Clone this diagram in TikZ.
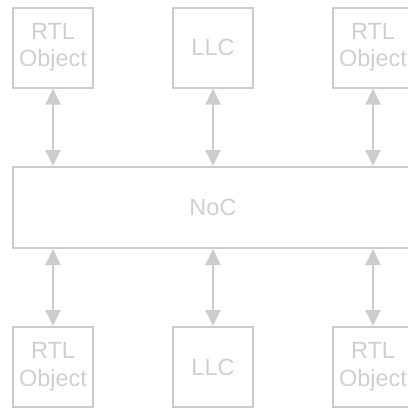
\documentclass[tikz,border=0pt]{standalone}
\usepackage{fontspec}
\setmainfont{Liberation Sans}
\usetikzlibrary{arrows.meta}
\definecolor{edgegray}{HTML}{CCCCCC}
\definecolor{textgray}{HTML}{CFCFCF}
\tikzset{
  unit/.style={draw=edgegray, line width=2pt, minimum width=80pt, minimum height=80pt,
    inner sep=0pt, text=textgray, font=\fontsize{23.5pt}{27.5pt}\selectfont, align=center},
  bus/.style={draw=edgegray, line width=2pt, minimum width=400pt, minimum height=81pt,
    inner sep=0pt, text=textgray, font=\fontsize{23.5pt}{27.5pt}\selectfont},
  link/.style={draw=edgegray, line width=2pt,
    {Triangle[width=15pt,length=16pt]}-{Triangle[width=15pt,length=16pt]}}
}
\begin{document}
\begin{tikzpicture}[x=1pt, y=-1pt]
  \useasboundingbox (0,0) rectangle (408,408);
  \clip (0,0) rectangle (408,408);
  % top row
  \node[unit] (t1) at (53,47.5) {RTL\\Object};
  \node[unit] (t2) at (213,47.5) {LLC};
  \node[unit] (t3) at (373,47.5) {RTL\\Object};
  % network in the middle
  \node[bus] (noc) at (213,207.5) {NoC};
  % bottom row
  \node[unit] (b1) at (53,367) {RTL\\Object};
  \node[unit] (b2) at (213,367) {LLC};
  \node[unit] (b3) at (373,367) {RTL\\Object};
  % links
  \draw[link] (t1.south) -- (t1.south |- noc.north);
  \draw[link] (t2.south) -- (t2.south |- noc.north);
  \draw[link] (t3.south) -- (t3.south |- noc.north);
  \draw[link] (b1.north) -- (b1.north |- noc.south);
  \draw[link] (b2.north) -- (b2.north |- noc.south);
  \draw[link] (b3.north) -- (b3.north |- noc.south);
\end{tikzpicture}
\end{document}
